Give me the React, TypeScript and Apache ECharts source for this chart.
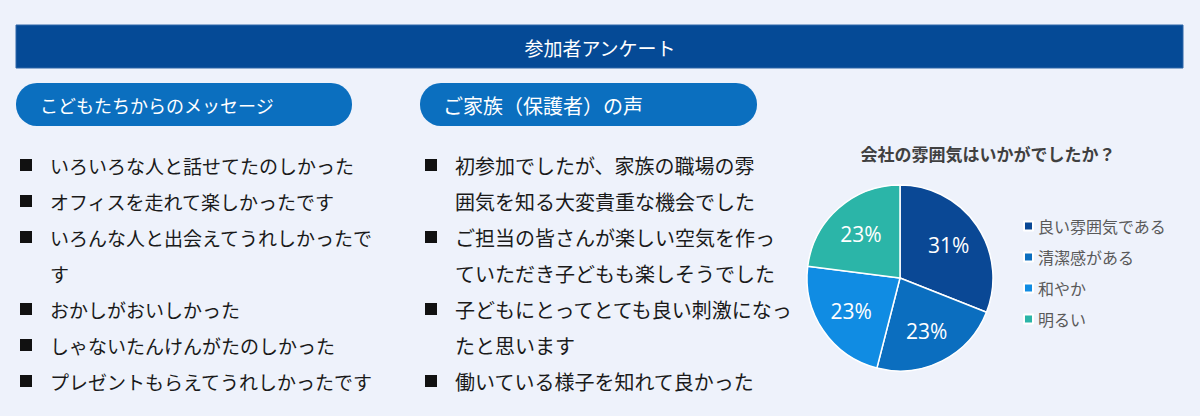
import { useEffect, useRef } from 'react';
import * as echarts from 'echarts';

const pageTitle = '参加者アンケート';
const kidsHeading = 'こどもたちからのメッセージ';
const familyHeading = 'ご家族（保護者）の声';

// each entry is one bullet, split into its displayed lines
const kidsMessages = [
  ['いろいろな人と話せてたのしかった'],
  ['オフィスを走れて楽しかったです'],
  ['いろんな人と出会えてうれしかったで', 'す'],
  ['おかしがおいしかった'],
  ['しゃないたんけんがたのしかった'],
  ['プレゼントもらえてうれしかったです'],
];
const familyMessages = [
  ['初参加でしたが、家族の職場の雰', '囲気を知る大変貴重な機会でした'],
  ['ご担当の皆さんが楽しい空気を作っ', 'ていただき子どもも楽しそうでした'],
  ['子どもにとってとても良い刺激になっ', 'たと思います'],
  ['働いている様子を知れて良かった'],
];

const pieTitle = '会社の雰囲気はいかがでしたか？';
const moodLabels = ['良い雰囲気である', '清潔感がある', '和やか', '明るい'];
const moodShares = [31, 23, 23, 23];
const moodColors = ['#0a4895', '#0b6ebf', '#108ce3', '#2bb5a8'];

const FONT = '"Noto Sans CJK JP", "Noto Sans", sans-serif';

const bulletList = (items: string[][], left: number, size: number) => {
  const out: any[] = [];
  let row = 0;
  items.forEach((lines) => {
    out.push({
      type: 'rect',
      shape: { x: left, y: 165 + row * 36 - 6, width: 12, height: 12 },
      style: { fill: '#111111' },
    });
    lines.forEach((line) => {
      out.push({
        type: 'text',
        x: left + 30,
        y: 165 + row * 36,
        style: {
          text: line,
          fill: '#1a1a1a',
          font: `${size}px ${FONT}`,
          textVerticalAlign: 'middle',
        },
      });
      row += 1;
    });
  });
  return out;
};

export default function App() {
  const ref = useRef<HTMLDivElement>(null);

  useEffect(() => {
    if (!ref.current) return;
    const chart = echarts.init(ref.current, null, { renderer: 'svg' });
    const pieData = moodLabels.map((name, i) => ({
      name,
      value: moodShares[i],
      itemStyle: { color: moodColors[i] },
    }));

    chart.setOption({
      animation: false,
      backgroundColor: '#eef2fb',
      textStyle: { fontFamily: FONT },
      legend: {
        orient: 'vertical',
        left: 1018,
        top: 213,
        itemWidth: 9,
        itemHeight: 9,
        itemGap: 15,
        icon: 'rect',
        data: moodLabels,
        textStyle: { fontSize: 16, lineHeight: 16, color: '#595959', fontFamily: FONT },
        selectedMode: false,
      },
      graphic: [
        {
          type: 'rect',
          shape: { x: 16, y: 25, width: 1167, height: 43 },
          style: { fill: '#054a96', stroke: '#2f66a8', lineWidth: 1 },
        },
        {
          type: 'text',
          x: 600,
          y: 47,
          style: {
            text: pageTitle,
            fill: '#ffffff',
            font: `19px ${FONT}`,
            textAlign: 'center',
            textVerticalAlign: 'middle',
          },
        },
        {
          type: 'rect',
          shape: { x: 16, y: 83, width: 336, height: 43, r: 21 },
          style: { fill: '#0b6fbf' },
        },
        {
          type: 'text',
          x: 40,
          y: 105,
          style: {
            text: kidsHeading,
            fill: '#ffffff',
            font: `18px ${FONT}`,
            textVerticalAlign: 'middle',
          },
        },
        {
          type: 'rect',
          shape: { x: 420, y: 83, width: 337, height: 43, r: 21 },
          style: { fill: '#0b6fbf' },
        },
        {
          type: 'text',
          x: 443,
          y: 105,
          style: {
            text: familyHeading,
            fill: '#ffffff',
            font: `20px ${FONT}`,
            textVerticalAlign: 'middle',
          },
        },
        ...bulletList(kidsMessages, 20, 19),
        ...bulletList(familyMessages, 425, 20),
        {
          type: 'text',
          x: 988,
          y: 153,
          style: {
            text: pieTitle,
            fill: '#404040',
            font: `bold 17px ${FONT}`,
            textAlign: 'center',
            textVerticalAlign: 'middle',
          },
        },
      ],
      series: [
        {
          type: 'pie',
          center: [900, 278],
          radius: [0, 93],
          startAngle: 90,
          clockwise: true,
          label: { show: false },
          labelLine: { show: false },
          itemStyle: { borderColor: '#ffffff', borderWidth: 1.5 },
          emphasis: { disabled: true },
          data: pieData,
        },
        {
          // transparent twin used only to place the labels further out
          type: 'pie',
          center: [900, 278],
          radius: [19, 93],
          startAngle: 90,
          clockwise: true,
          silent: true,
          legendHoverLink: false,
          itemStyle: { color: 'transparent' },
          label: {
            show: true,
            position: 'inside',
            formatter: '{c}%',
            color: '#ffffff',
            fontSize: 21,
            fontFamily: '"Open Sans", "Noto Sans", sans-serif',
          },
          labelLine: { show: false },
          emphasis: { disabled: true },
          data: moodLabels.map((name, i) => ({ name, value: moodShares[i] })),
        },
      ],
    });

    return () => chart.dispose();
  }, []);

  return (
    <div
      ref={ref}
      style={{ position: 'fixed', left: 0, top: 0, width: 1200, height: 416 }}
    />
  );
}
